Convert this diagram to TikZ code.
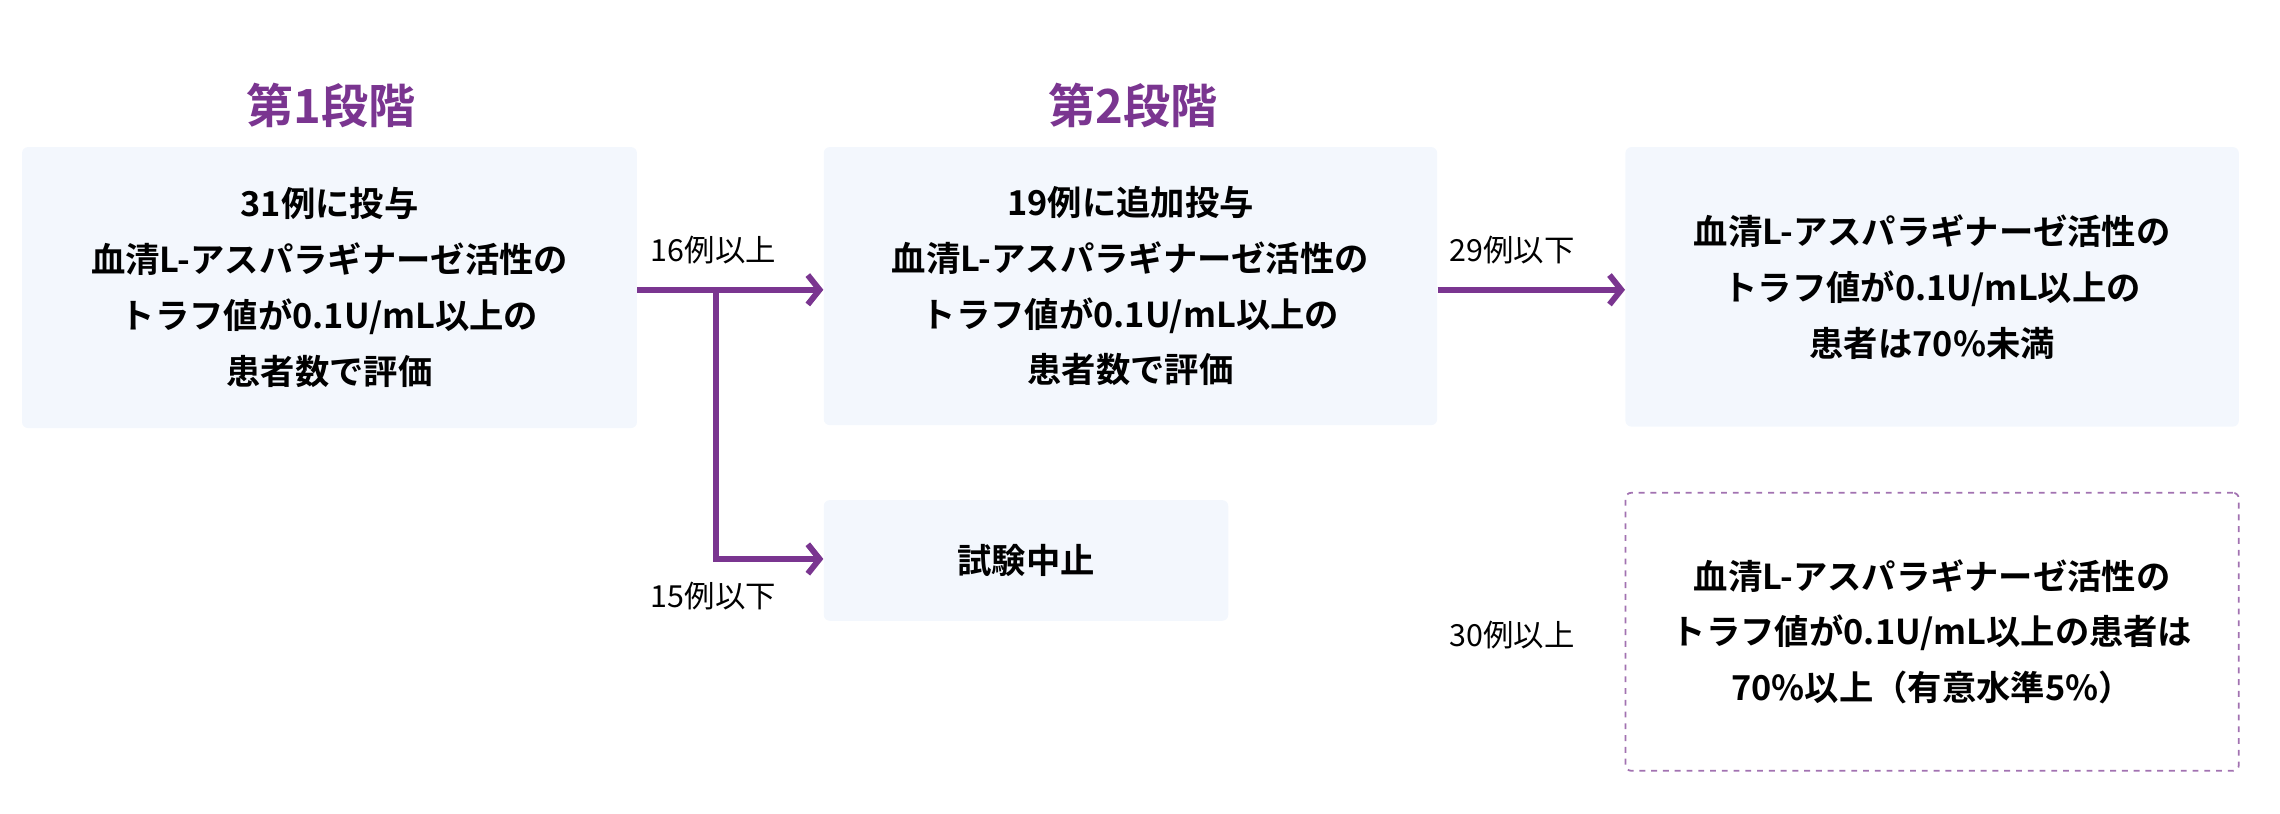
\documentclass[tikz,border=0pt]{standalone}
\usepackage{fontspec}
\setmainfont{Noto Sans CJK JP}[BoldFont={* Bold}]
\usetikzlibrary{arrows.meta}
\definecolor{pur}{HTML}{7A3590}
\definecolor{boxbg}{HTML}{F3F7FD}
\begin{document}
\begin{tikzpicture}[x=0.75pt,y=-0.75pt,
  box/.style={fill=boxbg,draw=none,rounded corners=3pt,align=center,inner sep=0pt,font=\fontsize{17.5}{28.5}\selectfont\bfseries},
  lab/.style={font=\fontsize{15.5}{18}\selectfont},
  ttl/.style={font=\fontsize{24}{28}\selectfont\bfseries,text=pur},
  arr/.style={draw=pur,line width=3pt,-{Straight Barb[length=6pt,width=15pt]}}]
\useasboundingbox (0,0) rectangle (1550,553);
\node[box,minimum width=418*0.75pt,minimum height=191*0.75pt] (b1) at (224,195.5) {31例に投与\\血清L-アスパラギナーゼ活性の\\トラフ値が0.1U/mL以上の\\患者数で評価};
\node[box,minimum width=417*0.75pt,minimum height=189*0.75pt] (b2) at (768.5,194.5) {19例に追加投与\\血清L-アスパラギナーゼ活性の\\トラフ値が0.1U/mL以上の\\患者数で評価};
\node[box,minimum width=417*0.75pt,minimum height=190*0.75pt] (b3) at (1313.5,195) {血清L-アスパラギナーゼ活性の\\トラフ値が0.1U/mL以上の\\患者は70\%未満};
\node[box,minimum width=275*0.75pt,minimum height=82*0.75pt] (b4) at (697.5,381) {試験中止};
\node[box,fill=none,draw=pur!70,dashed,line width=0.9pt,minimum width=417*0.75pt,minimum height=189*0.75pt] (b5) at (1313.5,429.5) {血清L-アスパラギナーゼ活性の\\トラフ値が0.1U/mL以上の患者は\\70\%以上（有意水準5\%）};
\node[ttl] (t1) at (225,72) {第1段階};
\node[ttl] (t2) at (770,72) {第2段階};
\coordinate (j) at (487,197);
\coordinate (c) at (487,380);
\draw[arr] (b1.east|-j) -- (b2.west|-j);
\draw[arr] (j) -- (c) -- (b4.west|-c);
\draw[arr] (b2.east|-j) -- (b3.west|-j);
\node[lab] (l1) at (485,170) {16例以上};
\node[lab] (l2) at (485,405) {15例以下};
\node[lab] (l3) at (1028,170) {29例以下};
\node[lab] (l4) at (1028,432) {30例以上};
\end{tikzpicture}
\end{document}
